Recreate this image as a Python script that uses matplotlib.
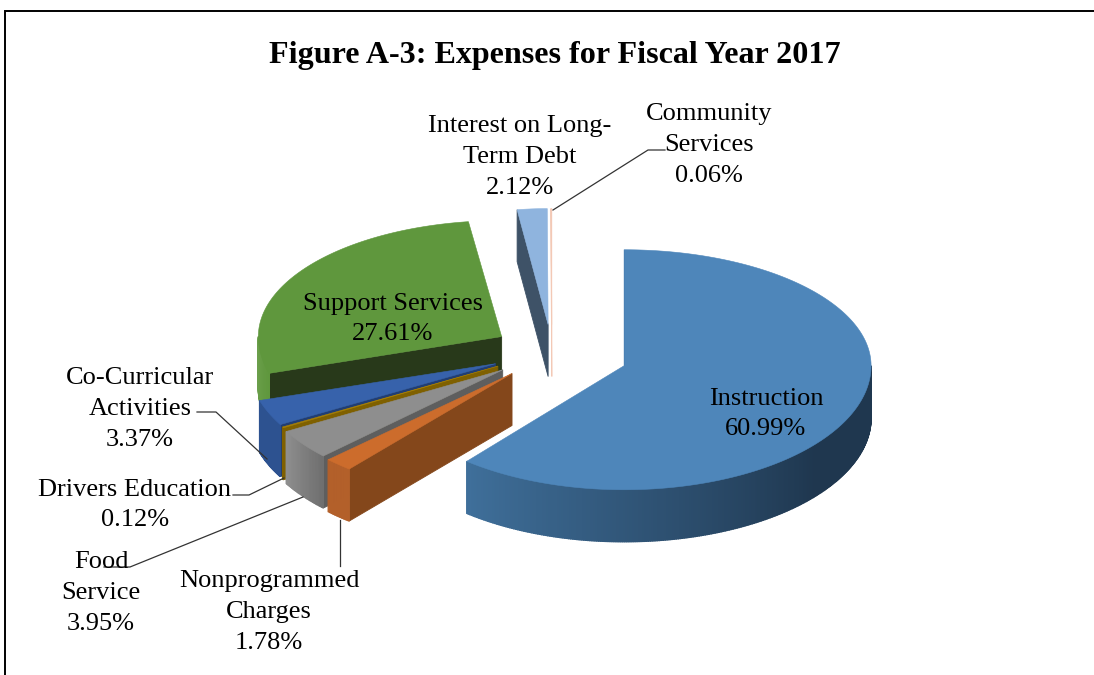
# -*- coding: utf-8 -*-
"""
Figure A-3: exploded 3D pie of fiscal year 2017 expenses
Wedges are built by hand since matplotlib has no 3D pie
"""

import numpy as np
import matplotlib
matplotlib.use("Agg")
import matplotlib.pyplot as plt
from matplotlib.colors import to_rgb

### Chart data ###
title = "Figure A-3: Expenses for Fiscal Year 2017"
categories = ["Instruction","Nonprogrammed\nCharges","Food\nService","Drivers Education",
              "Co-Curricular\nActivities","Support Services","Interest on Long-\nTerm Debt",
              "Community\nServices"]
shares = [60.99,1.78,3.95,0.12,3.37,27.61,2.12,0.06]

### Style ###
top_colors = ["#4E86BA","#CC6C2C","#8E8E8E","#A67F05","#3762AB","#5F973D","#8FB4DE","#F3C9B6"]
face_colors = ["#1F374F","#84471B","#5E5E5E","#7F6000","#213E73","#28391A","#3E5267","#F3C9B6"]
rim_start = ["#3F6F9A","#B3602A","#6E6E6E","#7F6000","#2D5290","#5F973D","#3E5267","#F3C9B6"]
rim_end = ["#1F374F","#B3602A","#8E8E8E","#7F6000","#2D5290","#6A9E4A","#3E5267","#F3C9B6"]
draw_order = [5,6,7,4,3,2,1,0]
# per slice nudges, the original has some perspective this simple model lacks
slice_shift = [(-1,0),(-1,-6),(-2,-5),(-2,-5),(-1,-4),(0,0),(-7,3),(-8,3)]
width_scale = [1,1.035,1.01,1,1,0.985,0.92,1]

center = (560,354)
rx = 247
ry_back = 116
ry_front = 124
depth = 52
explode = 0.28

# text positions, pixel coords
label_xy = [(766,414),(269,612),(101,593),(135,505),(140,409),(393,319),(520,157),(709,145)]
leaders = [[(553,210),(648,150),(665,150)],
           [(197,412),(216,412),(267,459)],
           [(233,495),(249,495),(284,478)],
           [(104,567),(130,567),(303,497)],
           [(340,520),(340,566)]]

### Begin Script ###
def rim_point(theta,r=1.0):
    # theta in degrees, clockwise from 12 o'clock, y axis points down
    t = np.radians(theta)
    ry = np.where(np.cos(t)>0,ry_back,ry_front)
    return np.array([rx*np.sin(t)*r,-ry*np.cos(t)*r]).T

def blend(c0,c1,f):
    c0,c1 = np.array(to_rgb(c0)),np.array(to_rgb(c1))
    return tuple(c0+(c1-c0)*f)

fig = plt.figure(figsize=(10.94,6.75),dpi=100)
ax = fig.add_axes([0,0,1,1])
ax.set_xlim(0,1094)
ax.set_ylim(675,0)
ax.axis("off")

# chart frame
ax.plot([5,5,1094],[675,11,11],color="black",lw=1.4,solid_joinstyle="miter")

edges = np.cumsum([0]+shares)/np.sum(shares)*360
for i in draw_order:
    start,end = edges[i],edges[i+1]
    mid = (start+end)/2
    apex = np.array(center)+rim_point(mid,explode)+slice_shift[i]
    down = np.array([0,depth])
    scale = np.array([width_scale[i],1])
    z = 2*draw_order.index(i)

    # radial cut face on the leading edge
    corner = apex+rim_point(start)*scale
    ax.fill(*np.array([apex,corner,corner+down,apex+down]).T,color=face_colors[i],lw=0.6,zorder=z+1)

    # outer rim, only the front half can be seen
    lo,hi = max(start,90),min(end,270)
    if hi>lo:
        steps = np.linspace(lo,hi,max(int(hi-lo)*2,2)+1)
        for a,b in zip(steps[:-1],steps[1:]):
            if i==0:
                # instruction gets dark quickly moving right from the cut edge
                f = np.clip((hi-b)/(hi-130),0,1)
            else:
                f = (b-lo)/(hi-lo)
            p,q = apex+rim_point(a)*scale,apex+rim_point(b)*scale
            ax.fill(*np.array([p,q,q+down,p+down]).T,color=blend(rim_start[i],rim_end[i],f),
                    lw=1.0,zorder=z+1)

    # top surface
    arc = apex+rim_point(np.linspace(start,end,max(int(end-start)*2,2)+1))*scale
    ax.fill(*np.vstack([apex,arc]).T,color=top_colors[i],lw=0.4,zorder=z+2)

# leader lines
for line in leaders:
    ax.plot(*np.array(line).T,color="#333333",lw=0.9,zorder=30)

# labels
for name,share,(x,y) in zip(categories,shares,label_xy):
    ax.text(x,y,f"{name}\n{share:.2f}%",ha="center",va="center",family="Liberation Serif",
            fontsize=19,linespacing=1.52,color="black",zorder=40)

ax.text(555,56,title,ha="center",va="center",family="Liberation Serif",fontweight="bold",
        fontsize=23.1,color="black",zorder=40)

fig.savefig("out.png",dpi=100)
